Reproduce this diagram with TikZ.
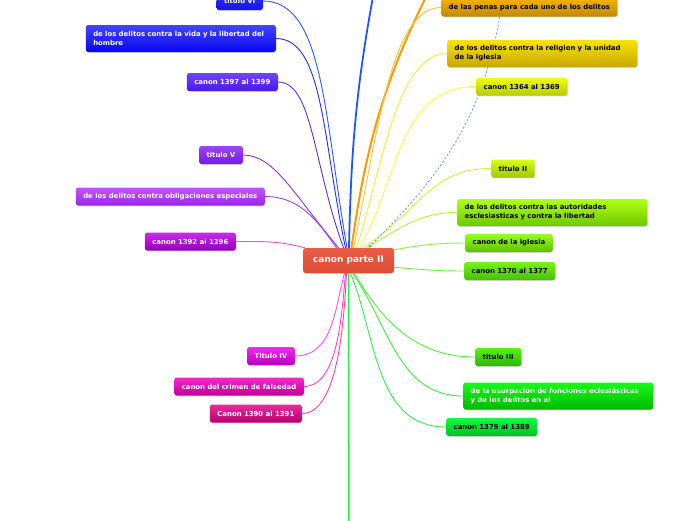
\documentclass[tikz,border=0pt]{standalone}
\usepackage{fontspec}
\setmainfont{DejaVu Sans}
\usetikzlibrary{arrows.meta,shadows,backgrounds}
\definecolor{cenT}{HTML}{EA5C44}
\definecolor{cenB}{HTML}{DE4C34}
\definecolor{tviT}{HTML}{3434FF}
\definecolor{tviB}{HTML}{1414E4}
\definecolor{vidT}{HTML}{4444FF}
\definecolor{vidB}{HTML}{0606EE}
\definecolor{c97T}{HTML}{7044FF}
\definecolor{c97B}{HTML}{4A18E8}
\definecolor{tvT}{HTML}{9C44FF}
\definecolor{tvB}{HTML}{7618E4}
\definecolor{oblT}{HTML}{C454FF}
\definecolor{oblB}{HTML}{9A26E4}
\definecolor{c92T}{HTML}{C82CE8}
\definecolor{c92B}{HTML}{9200B8}
\definecolor{tivT}{HTML}{F22AF2}
\definecolor{tivB}{HTML}{B800BE}
\definecolor{criT}{HTML}{F22ACC}
\definecolor{criB}{HTML}{C00098}
\definecolor{c90T}{HTML}{E82C9C}
\definecolor{c90B}{HTML}{B60070}
\definecolor{penT}{HTML}{F4B200}
\definecolor{penB}{HTML}{C08800}
\definecolor{relT}{HTML}{FAE200}
\definecolor{relB}{HTML}{C8A800}
\definecolor{c64T}{HTML}{F0FF10}
\definecolor{c64B}{HTML}{B8C800}
\definecolor{tiiT}{HTML}{D8FF10}
\definecolor{tiiB}{HTML}{A0C800}
\definecolor{autT}{HTML}{B0FF14}
\definecolor{autB}{HTML}{6EC800}
\definecolor{iglT}{HTML}{98FF24}
\definecolor{iglB}{HTML}{5EC000}
\definecolor{c70T}{HTML}{78F414}
\definecolor{c70B}{HTML}{46C000}
\definecolor{tiiiT}{HTML}{58F414}
\definecolor{tiiiB}{HTML}{28B800}
\definecolor{usuT}{HTML}{18FA18}
\definecolor{usuB}{HTML}{00B800}
\definecolor{c79T}{HTML}{10FA44}
\definecolor{c79B}{HTML}{00C020}
\definecolor{lVI}{HTML}{3355FF}
\definecolor{lvid}{HTML}{2A2AEE}
\definecolor{l97}{HTML}{5A30E8}
\definecolor{lV}{HTML}{8830F0}
\definecolor{lobl}{HTML}{A040E8}
\definecolor{l92}{HTML}{E050F0}
\definecolor{lIV}{HTML}{FF50FF}
\definecolor{lcri}{HTML}{FF40C8}
\definecolor{l90}{HTML}{FF40A8}
\definecolor{lpen}{HTML}{FFC040}
\definecolor{lupO}{HTML}{FF9A00}
\definecolor{lupB}{HTML}{2255FF}
\definecolor{lrel}{HTML}{FFE840}
\definecolor{l64}{HTML}{FFFF40}
\definecolor{lII}{HTML}{D8F040}
\definecolor{laut}{HTML}{B8F040}
\definecolor{ligl}{HTML}{90F040}
\definecolor{l70}{HTML}{70F040}
\definecolor{lIII}{HTML}{58F040}
\definecolor{lusu}{HTML}{38F040}
\definecolor{l79}{HTML}{30F050}
\definecolor{ldnG}{HTML}{20F040}
\definecolor{ldsh}{HTML}{5AA0F0}
\begin{document}
\begin{tikzpicture}[x=1pt,y=1pt,>={Stealth[length=4pt,width=3.5pt]},
  mb/.style={rounded corners=2.5pt,inner xsep=7.5pt,inner ysep=1pt,minimum height=18pt,align=left,
    font=\fontsize{6.9}{9}\selectfont\bfseries,text=white,
    drop shadow={shadow xshift=0.7pt,shadow yshift=-0.9pt,opacity=0.3}},
  mk/.style={mb,text=black},
  two/.style={minimum height=27pt,text width=175pt},
  gr/.style 2 args={top color=#1,bottom color=#2},
  ln/.style={line width=0.9pt}]
\useasboundingbox (0,0) rectangle (696,-520);
\node[mb,gr={cenT}{cenB},font=\fontsize{9}{11}\selectfont\bfseries,minimum height=25pt,inner xsep=10pt] (cen) at (348.5,-260.5) {canon parte II};
\node[mb,gr={tviT}{tviB},anchor=east] (tVI) at (263,-1) {titulo VI};
\node[mb,gr={vidT}{vidB},two,anchor=east] (vida) at (276,-38.5) {de los delitos contra la vida y la libertad del\\hombre};
\node[mb,gr={c97T}{c97B},anchor=east] (c1397) at (278,-82) {canon 1397 al 1399};
\node[mb,gr={tvT}{tvB},anchor=east] (tV) at (243,-155) {titulo V};
\node[mb,gr={oblT}{oblB},anchor=east] (obl) at (265,-196.5) {de los delitos contra obligaciones especiales};
\node[mb,gr={c92T}{c92B},anchor=east] (c1392) at (236,-241.5) {canon 1392 al 1396};
\node[mb,gr={tivT}{tivB},anchor=east] (tIV) at (295,-356) {Titulo IV};
\node[mb,gr={criT}{criB},anchor=east] (crim) at (304,-386.5) {canon del crimen de falsedad};
\node[mb,gr={c90T}{c90B},anchor=east] (c1390) at (302,-413.5) {Canon 1390 al 1391};
\node[mk,gr={penT}{penB},anchor=west] (pen) at (441,-7.5) {de las penas para cada uno de los delitos};
\node[mk,gr={relT}{relB},two,anchor=west] (rel) at (447,-53.5) {de los delitos contra la religion y la unidad\\de la iglesia};
\node[mk,gr={c64T}{c64B},anchor=west] (c1364) at (476,-86.5) {canon 1364 al 1369};
\node[mk,gr={tiiT}{tiiB},anchor=west] (tII) at (491,-168.5) {titulo II};
\node[mk,gr={autT}{autB},two,anchor=west] (aut) at (457,-212.5) {de los delitos contra las autoridades\\esclesiasticas y contra la libertad};
\node[mk,gr={iglT}{iglB},anchor=west] (igl) at (465,-243) {canon de la iglesia};
\node[mk,gr={c70T}{c70B},anchor=west] (c1370) at (464,-271) {canon 1370 al 1377};
\node[mk,gr={tiiiT}{tiiiB},anchor=west] (tIII) at (475,-357) {titulo III};
\node[mb,gr={usuT}{usuB},two,anchor=west] (usu) at (463,-396) {de la usurpación de funciones eclesiásticas\\y de los delitos en el};
\node[mk,gr={c79T}{c79B},anchor=west] (c1379) at (446,-427) {canon 1379 al 1389};
\coordinate (upB) at (380,40);
\coordinate (upO) at (445,40);
\coordinate (dnG) at (349,-560);
\begin{scope}[on background layer]
\draw[ln,lVI] ([xshift=-1.5pt]cen.north) to[out=100,in=0,out looseness=1.3,in looseness=0.6] (tVI.east);
\draw[ln,lvid] ([xshift=-3pt]cen.north) to[out=102,in=0,out looseness=1.3,in looseness=0.55] (vida.east);
\draw[ln,l97] ([xshift=-5pt]cen.north) to[out=110,in=0,out looseness=1.3,in looseness=0.5] (c1397.east);
\draw[ln,lV] ([xshift=-10pt]cen.north) to[out=130,in=0,out looseness=1.35,in looseness=0.6] (tV.east);
\draw[ln,lobl] ([xshift=-12pt]cen.north) to[out=125,in=0] (obl.east);
\draw[ln,l92] ([xshift=2pt]cen.north west) to[out=165,in=0] (c1392.east);
\draw[ln,lIV] ([xshift=-4pt]cen.south) to[out=-105,in=0] (tIV.east);
\draw[ln,lcri] ([xshift=-3pt]cen.south) to[out=-95,in=0,in looseness=0.7] (crim.east);
\draw[ln,l90] ([xshift=-2pt]cen.south) to[out=-93,in=0,in looseness=0.6] (c1390.east);
\draw[line width=1.8pt,lupB] ([xshift=0.5pt]cen.north) to[bend left=5] (upB);
\draw[line width=2pt,lupO] ([xshift=3pt]cen.north) to[bend left=10] (upO);
\draw[ln,lpen] ([xshift=5pt]cen.north) to[out=78,in=180,out looseness=1.2,in looseness=0.5] (pen.west);
\draw[ln,lrel] ([xshift=8pt]cen.north) to[out=72,in=180,in looseness=0.6] (rel.west);
\draw[ln,l64] ([xshift=11pt]cen.north) to[out=60,in=180] (c1364.west);
\draw[ln,lII] ([xshift=15pt]cen.north) to[out=35,in=180,out looseness=1.3] (tII.west);
\draw[ln,laut] ([xshift=18pt]cen.north) to[out=30,in=180] (aut.west);
\draw[ln,ligl] ([yshift=-2pt]cen.north east) to[out=10,in=180] (igl.west);
\draw[ln,l70] ([yshift=6pt]cen.south east) to[out=-5,in=180] (c1370.west);
\draw[ln,lIII] ([xshift=6pt]cen.south) to[out=-60,in=180] (tIII.west);
\draw[ln,lusu] ([xshift=4pt]cen.south) to[out=-55,in=180] (usu.west);
\draw[ln,l79] ([xshift=2pt]cen.south) to[out=-68,in=180] (c1379.west);
\draw[line width=1.4pt,ldnG] (cen.south) -- (dnG);
\draw[->,ldsh,line width=0.8pt,dash pattern=on 2pt off 2pt] ([xshift=-29.5pt]pen.south) to[out=-100,in=45] ([xshift=20pt]cen.north);
\end{scope}
\end{tikzpicture}
\end{document}
